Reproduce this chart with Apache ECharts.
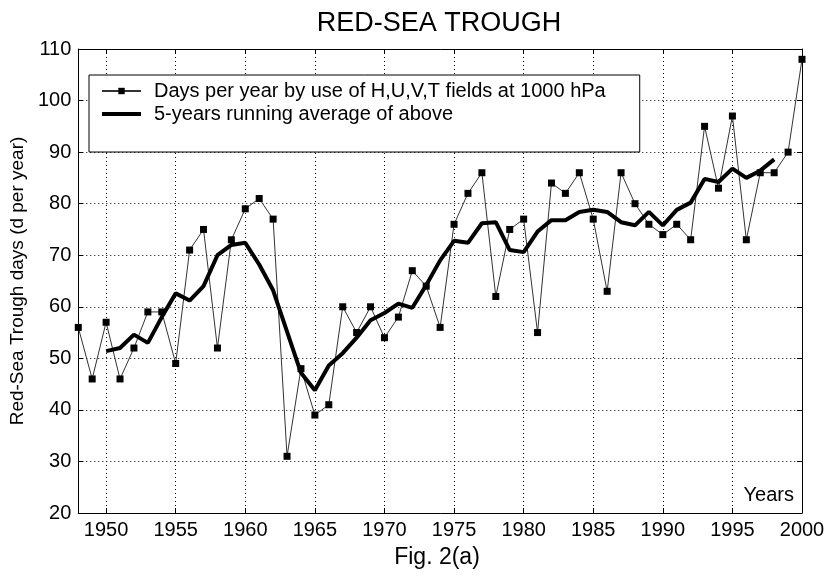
<!DOCTYPE html>
<html>
<head>
<meta charset="utf-8">
<title>Red-Sea Trough</title>
<script src="https://cdn.jsdelivr.net/npm/echarts@6/dist/echarts.min.js"></script>
<style>
  html, body { margin: 0; padding: 0; background: #fff; }
  #chart { width: 829px; height: 576px; }
</style>
</head>
<body>
<div id="chart"></div>
<script>
  // values
  const years = [
    '1948', '1949', '1950', '1951', '1952', '1953', '1954', '1955', '1956', '1957',
    '1958', '1959', '1960', '1961', '1962', '1963', '1964', '1965', '1966', '1967',
    '1968', '1969', '1970', '1971', '1972', '1973', '1974', '1975', '1976', '1977',
    '1978', '1979', '1980', '1981', '1982', '1983', '1984', '1985', '1986', '1987',
    '1988', '1989', '1990', '1991', '1992', '1993', '1994', '1995', '1996', '1997',
    '1998', '1999', '2000',
  ];
  const daysPerYear = [
    56, 46, 57, 46, 52, 59, 59, 49, 71, 75,
    52, 73, 79, 81, 77, 31, 48, 39, 41, 60,
    55, 60, 54, 58, 67, 64, 56, 76, 82, 86,
    62, 75, 77, 55, 84, 82, 86, 77, 63, 86,
    80, 76, 74, 76, 73, 95, 83, 97, 73, 86,
    86, 90, 108,
  ];
  const runningAverage = [
    null, null, 51.4, 52, 54.6, 53, 58, 62.6, 61.2, 64,
    70, 72, 72.4, 68.2, 63.2, 55.2, 47.2, 43.8, 48.6, 51,
    54, 57.4, 58.8, 60.6, 59.8, 64.2, 69, 72.8, 72.4, 76.2,
    76.4, 71, 70.6, 74.6, 76.8, 76.8, 78.4, 78.8, 78.4, 76.4,
    75.8, 78.4, 75.8, 78.8, 80.2, 84.8, 84.2, 86.8, 85, 86.4,
    88.6, null, null,
  ];
  const seriesNames = [
    'Days per year by use of H,U,V,T fields at 1000 hPa',
    '5-years running average of above',
  ];

  const font = 'Liberation Sans, Arial, sans-serif';
  const everyFifth = (index, value) => Number(value) % 5 === 0;
  const chart = echarts.init(document.getElementById('chart'));

  const gridLine = { show: true, lineStyle: { color: '#000', type: [1, 3], width: 1 } };
  const axisLine = { show: true, lineStyle: { color: '#000', width: 1 } };
  const innerTick = { show: true, inside: true, length: 5, lineStyle: { color: '#000' } };

  chart.setOption({
    animation: false,
    backgroundColor: '#fff',
    textStyle: { fontFamily: font },
    grid: { left: 75, right: 27, top: 49, bottom: 63 },
    legend: {
      orient: 'vertical',
      left: 89,
      top: 75,
      padding: [6, 34, 28, 12],
      itemGap: 3,
      itemWidth: 39,
      itemHeight: 8,
      borderColor: '#000',
      borderWidth: 1,
      borderRadius: 0,
      backgroundColor: '#fff',
      textStyle: { fontSize: 20, color: '#000', fontFamily: font, padding: [0, 0, 0, 8] },
      data: [
        { name: seriesNames[0] },
        // thick plain line, no marker
        { name: seriesNames[1], icon: 'path://M0,0H40V4H0Z', itemStyle: { color: '#000' } },
      ],
    },
    xAxis: [
      {
        type: 'category',
        data: years,
        boundaryGap: false,
        axisLine,
        axisTick: { ...innerTick, interval: everyFifth },
        axisLabel: { interval: everyFifth, color: '#000', fontSize: 20, margin: 7, fontFamily: font },
        splitLine: { ...gridLine, interval: everyFifth },
      },
      {
        type: 'category',
        data: years,
        position: 'top',
        boundaryGap: false,
        axisLine,
        axisTick: { ...innerTick, interval: everyFifth },
        axisLabel: { show: false },
        splitLine: { show: false },
      },
    ],
    yAxis: [
      {
        type: 'value',
        min: 20,
        max: 110,
        interval: 10,
        axisLine,
        axisTick: innerTick,
        axisLabel: { color: '#000', fontSize: 20, margin: 7, fontFamily: font },
        splitLine: gridLine,
        name: 'Red-Sea Trough days (d per year)',
        nameLocation: 'middle',
        nameGap: 46,
        nameTextStyle: { color: '#000', fontSize: 19, fontFamily: font },
      },
      {
        type: 'value',
        min: 20,
        max: 110,
        interval: 10,
        position: 'right',
        axisLine,
        axisTick: innerTick,
        axisLabel: { show: false },
        splitLine: { show: false },
      },
    ],
    series: [
      {
        name: seriesNames[0],
        type: 'line',
        data: daysPerYear,
        symbol: 'rect',
        symbolSize: 7,
        showAllSymbol: true,
        lineStyle: { color: '#333', width: 1 },
        itemStyle: { color: '#000' },
        z: 3,
      },
      {
        name: seriesNames[1],
        type: 'line',
        data: runningAverage,
        symbol: 'none',
        lineStyle: { color: '#000', width: 4 },
        itemStyle: { color: '#000' },
        z: 4,
      },
    ],
    graphic: [
      {
        type: 'text',
        x: 439,
        y: 10,
        style: { text: 'RED-SEA TROUGH', align: 'center', verticalAlign: 'top', font: `27px ${font}`, fill: '#000' },
      },
      {
        type: 'text',
        x: 437,
        y: 546,
        style: { text: 'Fig. 2(a)', align: 'center', verticalAlign: 'top', font: `23px ${font}`, fill: '#000' },
      },
      {
        type: 'text',
        x: 794,
        y: 485,
        style: { text: 'Years', align: 'right', verticalAlign: 'top', font: `20px ${font}`, fill: '#000' },
      },
    ],
  });
</script>
</body>
</html>
